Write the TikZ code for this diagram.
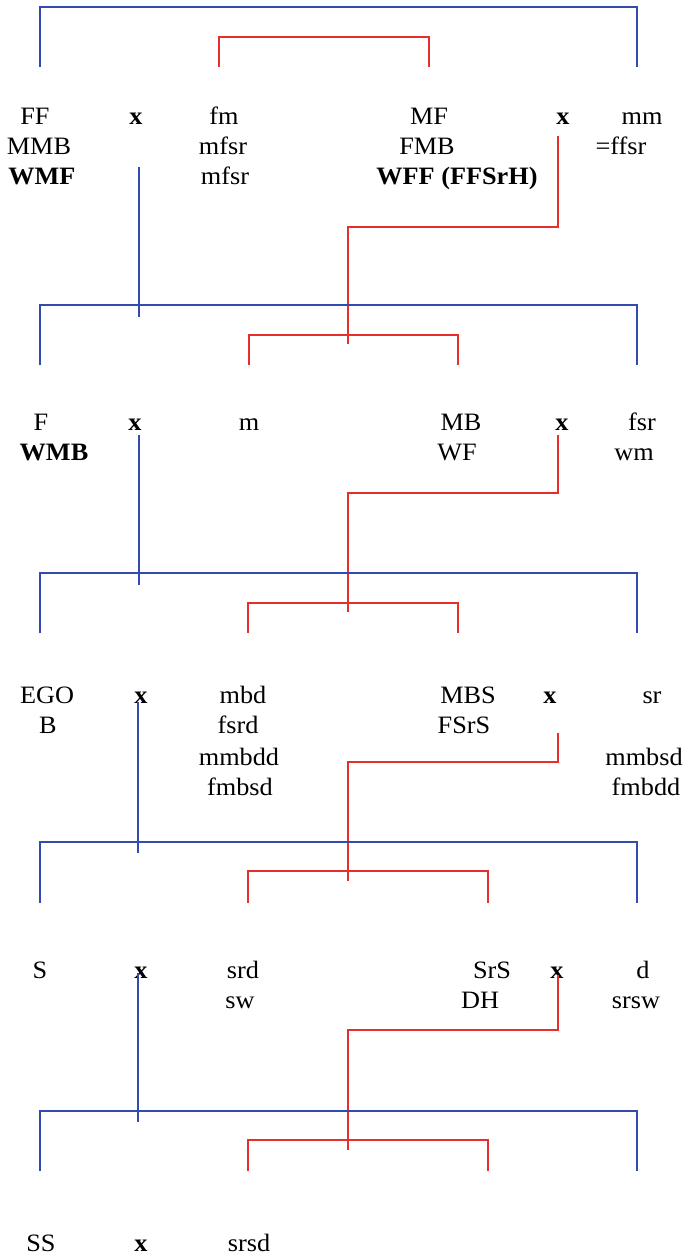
\documentclass[tikz,border=0pt]{standalone}
\usepackage{fontspec}
\setmainfont[FakeStretch=1.05]{Liberation Serif}
\definecolor{lineblue}{RGB}{50,75,175}
\definecolor{linered}{RGB}{232,45,45}
\tikzset{
  blueline/.style={draw=lineblue, line width=2pt},
  redline/.style={draw=linered, line width=2pt},
  lbl/.style={anchor=base, inner sep=0pt, font=\fontsize{25}{30}\selectfont},
  blbl/.style={lbl, font=\fontsize{25}{30}\selectfont\bfseries}
}
\begin{document}
\begin{tikzpicture}[x=1pt,y=-1pt]
\useasboundingbox (0,0) rectangle (689,1257);
% ---------- generation A ----------
\coordinate (a1) at (40,67);  \coordinate (a2) at (637,7);  \coordinate (a3) at (637,67);
\coordinate (ar1) at (219,67); \coordinate (ar2) at (429,37); \coordinate (ar3) at (429,67);
\draw[blueline] (a1) |- (a2) -- (a3);
\draw[redline] (ar1) |- (ar2) -- (ar3);
\node[lbl]  (FF)   at (35,125)  {FF};
\node[blbl] (xA1)  at (136,125) {x};
\node[lbl]  (fm)   at (224,125) {fm};
\node[lbl]  (MF)   at (429,125) {MF};
\node[blbl] (xA2)  at (563,125) {x};
\node[lbl]  (mm)   at (642,125) {mm};
\node[lbl]  (MMB)  at (39,155)  {MMB};
\node[lbl]  (mfsrA) at (223,155) {mfsr};
\node[lbl]  (FMB)  at (427,155) {FMB};
\node[lbl]  (ffsr) at (621,155) {=ffsr};
\node[blbl] (WMF)  at (42,185)  {WMF};
\node[lbl]  (mfsrB) at (225,185) {mfsr};
\node[blbl] (WFF)  at (457,185) {WFF (FFSrH)};
% descent lines A -> B
\coordinate (dA1) at (139,167); \coordinate (dA2) at (139,317);
\draw[blueline] (dA1) -- (dA2);
\coordinate (rA1) at (558,136); \coordinate (rA2) at (558,227); \coordinate (rA3) at (348,344);
\draw[redline] (rA1) -- (rA2) -| (rA3);
% ---------- generation B ----------
\coordinate (b1) at (40,365);  \coordinate (b2) at (637,305);  \coordinate (b3) at (637,365);
\coordinate (br1) at (249,365); \coordinate (br2) at (458,335); \coordinate (br3) at (458,365);
\draw[blueline] (b1) |- (b2) -- (b3);
\draw[redline] (br1) |- (br2) -- (br3);
\node[lbl]  (F)    at (41,430)  {F};
\node[blbl] (xB1)  at (135,430) {x};
\node[lbl]  (m)    at (249,430) {m};
\node[lbl]  (MB)   at (461,430) {MB};
\node[blbl] (xB2)  at (562,430) {x};
\node[lbl]  (fsr)  at (642,430) {fsr};
\node[blbl] (WMB)  at (54,460)  {WMB};
\node[lbl]  (WF)   at (457,460) {WF};
\node[lbl]  (wm)   at (634,460) {wm};
\coordinate (dB1) at (139,435); \coordinate (dB2) at (139,585);
\draw[blueline] (dB1) -- (dB2);
\coordinate (rB1) at (558,435); \coordinate (rB2) at (558,493); \coordinate (rB3) at (348,612);
\draw[redline] (rB1) -- (rB2) -| (rB3);
% ---------- generation C ----------
\coordinate (c1) at (40,633);  \coordinate (c2) at (637,573);  \coordinate (c3) at (637,633);
\coordinate (cr1) at (248,633); \coordinate (cr2) at (458,603); \coordinate (cr3) at (458,633);
\draw[blueline] (c1) |- (c2) -- (c3);
\draw[redline] (cr1) |- (cr2) -- (cr3);
\node[lbl]  (EGO)  at (47,703)  {EGO};
\node[blbl] (xC1)  at (141,703) {x};
\node[lbl]  (mbd)  at (243,703) {mbd};
\node[lbl]  (MBS)  at (468,703) {MBS};
\node[blbl] (xC2)  at (550,703) {x};
\node[lbl]  (sr)   at (652,703) {sr};
\node[lbl]  (B)    at (48,733)  {B};
\node[lbl]  (fsrd) at (238,733) {fsrd};
\node[lbl]  (FSrS) at (464,733) {FSrS};
\node[lbl]  (mmbdd) at (239,765) {mmbdd};
\node[lbl]  (mmbsd) at (644,765) {mmbsd};
\node[lbl]  (fmbsd) at (240,795) {fmbsd};
\node[lbl]  (fmbdd) at (646,795) {fmbdd};
\coordinate (dC1) at (138,702); \coordinate (dC2) at (138,853);
\draw[blueline] (dC1) -- (dC2);
\coordinate (rC1) at (558,733); \coordinate (rC2) at (558,762); \coordinate (rC3) at (348,881);
\draw[redline] (rC1) -- (rC2) -| (rC3);
% ---------- generation D ----------
\coordinate (d1) at (40,903);  \coordinate (d2) at (637,842);  \coordinate (d3) at (637,903);
\coordinate (dr1) at (248,903); \coordinate (dr2) at (488,871); \coordinate (dr3) at (488,903);
\draw[blueline] (d1) |- (d2) -- (d3);
\draw[redline] (dr1) |- (dr2) -- (dr3);
\node[lbl]  (S)    at (40,978)  {S};
\node[blbl] (xD1)  at (141,978) {x};
\node[lbl]  (srd)  at (243,978) {srd};
\node[lbl]  (SrS)  at (492,978) {SrS};
\node[blbl] (xD2)  at (557,978) {x};
\node[lbl]  (d)    at (643,978) {d};
\node[lbl]  (sw)   at (240,1008) {sw};
\node[lbl]  (DH)   at (480,1008) {DH};
\node[lbl]  (srsw) at (636,1008) {srsw};
\coordinate (dD1) at (138,973); \coordinate (dD2) at (138,1122);
\draw[blueline] (dD1) -- (dD2);
\coordinate (rD1) at (558,975); \coordinate (rD2) at (558,1030); \coordinate (rD3) at (348,1150);
\draw[redline] (rD1) -- (rD2) -| (rD3);
% ---------- generation E ----------
\coordinate (e1) at (40,1171);  \coordinate (e2) at (637,1111);  \coordinate (e3) at (637,1171);
\coordinate (er1) at (248,1171); \coordinate (er2) at (488,1140); \coordinate (er3) at (488,1171);
\draw[blueline] (e1) |- (e2) -- (e3);
\draw[redline] (er1) |- (er2) -- (er3);
\node[lbl]  (SS)   at (41,1251)  {SS};
\node[blbl] (xE1)  at (141,1251) {x};
\node[lbl]  (srsd) at (249,1251) {srsd};
\end{tikzpicture}
\end{document}
